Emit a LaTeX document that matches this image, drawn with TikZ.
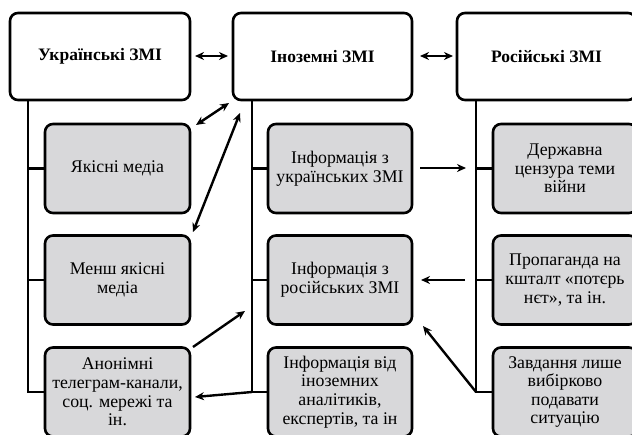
\documentclass[tikz,border=0pt]{standalone}
\usepackage{fontspec}
\setmainfont{Liberation Serif}
\usetikzlibrary{arrows.meta}
\definecolor{boxgray}{HTML}{D8D8DA}
\begin{document}
\begin{tikzpicture}[x=1pt,y=-1pt,
  topbox/.style={draw=black,line width=2.6pt,rounded corners=8pt,fill=white,
    minimum height=87pt,inner sep=0pt,align=center,
    font=\fontsize{17.5}{19}\selectfont\bfseries},
  subbox/.style={draw=black,line width=2.6pt,rounded corners=8pt,fill=boxgray,
    minimum width=144pt,minimum height=89pt,inner sep=0pt,align=center,
    font=\fontsize{17.8}{18.6}\selectfont},
  trunk/.style={line width=2.6pt,black},
  arr/.style={line width=2.4pt,-{Stealth[length=9pt,width=8pt]}},
  darr/.style={line width=2.4pt,{Stealth[length=9pt,width=8pt]}-{Stealth[length=9pt,width=8pt]}}
]
\useasboundingbox (0,0) rectangle (632,435);
\fill[white] (0,0) rectangle (632,435);
% top boxes
\node[topbox,minimum width=180pt] (ua) at (100,56.5) {Українські ЗМІ};
\node[topbox,minimum width=179pt] (fo) at (322.5,56.5) {Іноземні ЗМІ};
\node[topbox,minimum width=179pt] (ru) at (546.5,56.5) {Російські ЗМІ};
% trunk coordinates
\coordinate (t1) at (28,100);
\coordinate (t2) at (252,100);
\coordinate (t3) at (476,100);
% child boxes
\node[subbox,minimum width=145pt] (u1) at (117.5,168.5) {Якісні медіа};
\node[subbox,minimum width=145pt] (u2) at (117.5,280) {Менш якісні\\медіа};
\node[subbox,minimum width=145pt] (u3) at (117.5,392) {Анонімні\\телеграм-канали,\\соц. мережі та\\ін.};
\node[subbox] (f1) at (340,168.5) {Інформація з\\українських ЗМІ};
\node[subbox] (f2) at (340,280) {Інформація з\\російських ЗМІ};
\node[subbox] (f3) at (340,392) {Інформація від\\іноземних\\аналітиків,\\експертів, та ін};
\node[subbox] (r1) at (565,168.5) {Державна\\цензура теми\\війни};
\node[subbox] (r2) at (565,280) {Пропаганда на\\кшталт «потєрь\\нєт», та ін.};
\node[subbox] (r3) at (565,392) {Завдання лише\\вибірково\\подавати\\ситуацію};
% trunks and branches
\draw[trunk] (t1) |- (u3.west);
\draw[trunk] (t1 |- u1.west) -- (u1.west);
\draw[trunk] (t1 |- u2.west) -- (u2.west);
\draw[trunk] (t2) |- (f3.west);
\draw[trunk] (t2 |- f1.west) -- (f1.west);
\draw[trunk] (t2 |- f2.west) -- (f2.west);
\draw[trunk] (t3) |- (r3.west);
\draw[trunk] (t3 |- r1.west) -- (r1.west);
\draw[trunk] (t3 |- r2.west) -- (r2.west);
% arrow end points
\coordinate (a1s) at (195,56);  \coordinate (a1e) at (228,56);
\coordinate (a2s) at (420,56);  \coordinate (a2e) at (453,56);
\coordinate (a3s) at (196,125); \coordinate (a3e) at (229,103);
\coordinate (a4s) at (193,232); \coordinate (a4e) at (240,113);
\coordinate (a5s) at (193,347); \coordinate (a5e) at (245,311);
\coordinate (a6s) at (252,392); \coordinate (a6e) at (195,397);
\coordinate (a7s) at (420,168); \coordinate (a7e) at (466,168);
\coordinate (a8s) at (465,280); \coordinate (a8e) at (421,280);
\coordinate (a9s) at (476,392); \coordinate (a9e) at (423,326);
\draw[darr] (a1s) -- (a1e);
\draw[darr] (a2s) -- (a2e);
\draw[darr] (a3s) -- (a3e);
\draw[darr] (a4s) -- (a4e);
\draw[arr] (a5s) -- (a5e);
\draw[arr] (a6s) -- (a6e);
\draw[arr] (a7s) -- (a7e);
\draw[arr] (a8s) -- (a8e);
\draw[arr] (a9s) -- (a9e);
\end{tikzpicture}
\end{document}
